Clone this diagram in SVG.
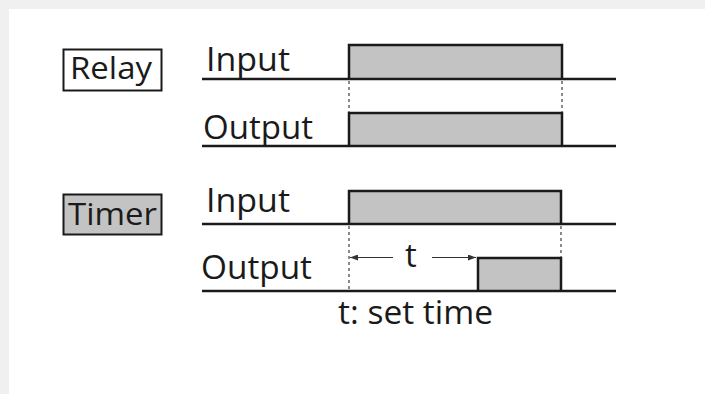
<svg xmlns="http://www.w3.org/2000/svg" width="705" height="394" viewBox="0 0 705 394">
<defs>
<style>
.txt{font-family:"Open Sans","Noto Sans","Liberation Sans",sans-serif;fill:#1a1a1a;font-weight:500}
.lbl{font-size:33px}
.box{font-size:31px}
.base{stroke:#1a1a1a;stroke-width:2.5;fill:none}
.pulse{fill:#c3c3c3;stroke:#1a1a1a;stroke-width:2.5}
.dash{stroke:#666;stroke-width:1.5;stroke-dasharray:3,3;fill:none}
.arr{stroke:#333;stroke-width:1.2;fill:none}
</style>
<marker id="ah" viewBox="0 0 8 6" refX="8" refY="3" markerWidth="8" markerHeight="6" orient="auto-start-reverse" markerUnits="userSpaceOnUse">
<path d="M0,0 L8,3 L0,6 z" fill="#333"/>
</marker>
</defs>
<rect x="0" y="0" width="705" height="394" fill="#f0f0f0"/>
<rect x="9" y="9" width="696" height="385" fill="#ffffff"/>

<g id="relay-label">
<rect x="63.5" y="49.5" width="98" height="41" fill="#fff" stroke="#1a1a1a" stroke-width="2"/>
<text class="txt box" x="70" y="79" textLength="82" lengthAdjust="spacingAndGlyphs">Relay</text>
</g>
<g id="relay-input">
<text class="txt lbl" x="206" y="71" textLength="84" lengthAdjust="spacingAndGlyphs">Input</text>
<path class="pulse" d="M349,79 V45 H562 V79"/>
<path class="base" d="M202,79 H616"/>
</g>
<g id="relay-output">
<text class="txt lbl" x="203" y="139" textLength="110" lengthAdjust="spacingAndGlyphs">Output</text>
<path class="pulse" d="M349,146 V113 H562 V146"/>
<path class="base" d="M202,146 H616"/>
</g>

<g id="timer-label">
<rect x="63.5" y="194.5" width="98" height="40" fill="#c3c3c3" stroke="#1a1a1a" stroke-width="2"/>
<text class="txt box" x="68" y="225" textLength="89" lengthAdjust="spacingAndGlyphs">Timer</text>
</g>
<g id="timer-input">
<text class="txt lbl" x="206" y="212" textLength="84" lengthAdjust="spacingAndGlyphs">Input</text>
<path class="pulse" d="M349,224 V191 H561 V224"/>
<path class="base" d="M202,224 H616"/>
</g>
<g id="timer-output">
<text class="txt lbl" x="201" y="279" textLength="111" lengthAdjust="spacingAndGlyphs">Output</text>
<path class="pulse" d="M478,291 V258 H561 V291"/>
<path class="base" d="M202,291 H616"/>
</g>

<g id="connectors">
<path class="dash" d="M349,81 V112"/>
<path class="dash" d="M562,81 V112"/>
<path class="dash" d="M349,226 V290"/>
<path class="dash" d="M561,226 V257"/>
<path class="arr" d="M393,257.5 H350" marker-end="url(#ah)"/>
<path class="arr" d="M432,257.5 H476" marker-end="url(#ah)"/>
</g>
<g id="t-label">
<text class="txt lbl" x="411" y="267" text-anchor="middle">t</text>
<text class="txt lbl" x="338" y="324" textLength="155" lengthAdjust="spacingAndGlyphs">t: set time</text>
</g>
</svg>
